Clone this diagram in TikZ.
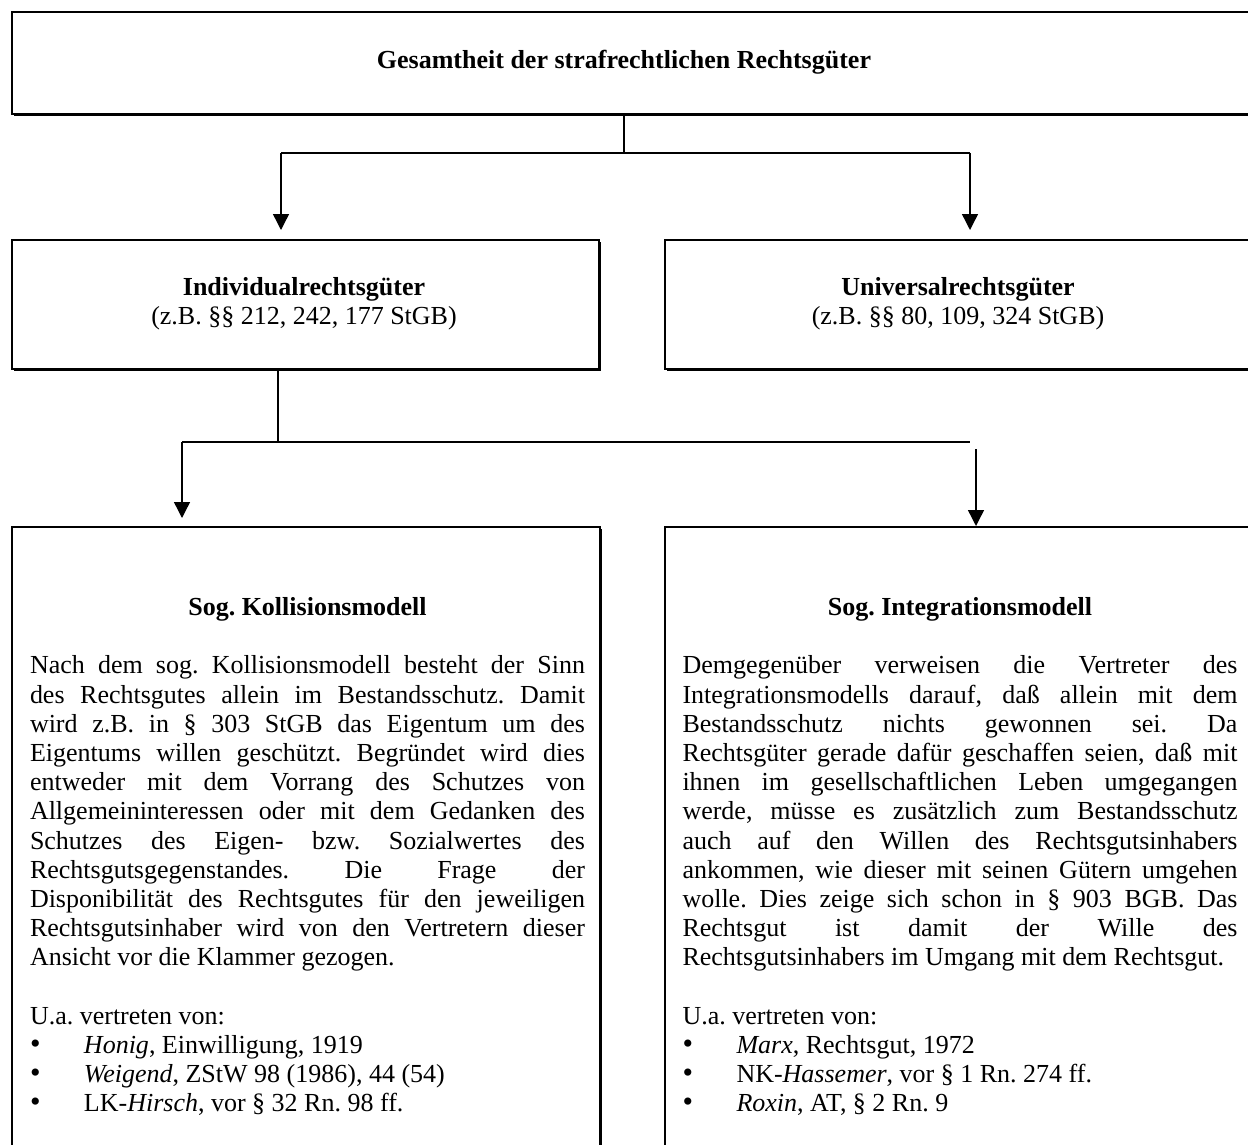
\documentclass[tikz,border=0pt]{standalone}
\usepackage{fontspec}
\setmainfont{Liberation Serif}
\usetikzlibrary{arrows.meta,shadows}
\frenchspacing

\newcommand{\leerzeile}{\par\vskip\baselineskip}
\newcommand{\punkt}[1]{\par\noindent\makebox[27pt][l]{\fontsize{15}{14.6}\selectfont\textbullet}#1}

\tikzset{
  kasten/.style={draw, line width=1pt, fill=white, inner sep=0pt, anchor=north west,
    drop shadow={shadow xshift=0.9pt, shadow yshift=-0.9pt, opacity=1, fill=black}},
  linie/.style={line width=0.7pt},
  pfeil/.style={line width=0.7pt, -{Triangle[width=8pt,length=8pt]}},
  spalte/.style={text width=277.5pt, align=justify, inner sep=0pt, anchor=north},
}

\begin{document}
\begin{tikzpicture}[x=0.5pt, y=-0.5pt, font=\fontsize{13}{14.6}\selectfont]
\useasboundingbox (0,0) rectangle (1248,1145);

% Kaesten
\node[kasten, minimum width=620.5pt, minimum height=51pt] (gesamt) at (11,11) {};
\node[kasten, minimum width=293.5pt, minimum height=64.5pt] (indiv) at (11,239) {};
\node[kasten, minimum width=294pt, minimum height=64.5pt] (univ) at (664,239) {};
\node[kasten, minimum width=294pt, minimum height=350pt] (koll) at (11,526) {};
\node[kasten, minimum width=294pt, minimum height=350pt] (integ) at (664,526) {};

% Texte oben
\node (gesamttext) at (624,62) {\textbf{Gesamtheit der strafrechtlichen Rechtsgüter}};
\node[align=center] (indivtext) at (304,304) {\textbf{Individualrechtsgüter}\\(z.B. §§ 212, 242, 177 StGB)};
\node[align=center] (univtext) at (958,304) {\textbf{Universalrechtsgüter}\\(z.B. §§ 80, 109, 324 StGB)};

% Verbindungen
\coordinate (v1) at (624,153);
\coordinate (l1) at (281,153); \coordinate (r1) at (970,153);
\coordinate (l1e) at (281,230); \coordinate (r1e) at (970,230);
\draw[linie] (gesamt.south -| v1) -- (v1);
\draw[linie] (l1) -- (r1);
\draw[pfeil] (l1) -- (l1e);
\draw[pfeil] (r1) -- (r1e);

\coordinate (v2) at (278,442);
\coordinate (l2) at (182,442); \coordinate (r2) at (970,442);
\coordinate (l2e) at (182,518);
\coordinate (r2a) at (976,449); \coordinate (r2e) at (976,526);
\draw[linie] (indiv.south -| v2) -- (v2);
\draw[linie] (l2) -- (r2);
\draw[pfeil] (l2) -- (l2e);
\draw[pfeil] (r2a) -- (r2e);

% Modelle
\node[spalte] (kolltext) at (307.5,597) {%
{\centering\textbf{Sog. Kollisionsmodell}\par}
\leerzeile
\noindent Nach dem sog. Kollisionsmodell besteht der Sinn\linebreak
des Rechtsgutes allein im Bestandsschutz. Damit\linebreak
wird z.B. in § 303 StGB das Eigentum um des\linebreak
Eigentums willen geschützt. Begründet wird dies\linebreak
entweder mit dem Vorrang des Schutzes von\linebreak
Allgemeininteressen oder mit dem Gedanken des\linebreak
Schutzes des Eigen- bzw. Sozialwertes des\linebreak
Rechtsgutsgegenstandes. Die Frage der\linebreak
Disponibilität des Rechtsgutes für den jeweiligen\linebreak
Rechtsgutsinhaber wird von den Vertretern dieser\linebreak
Ansicht vor die Klammer gezogen.
\leerzeile
\noindent U.a. vertreten von:
\punkt{\textit{Honig}, Einwilligung, 1919}
\punkt{\textit{Weigend}, ZStW 98 (1986), 44 (54)}
\punkt{LK-\textit{Hirsch}, vor § 32 Rn. 98 ff.}};

\node[spalte] (integtext) at (960,597) {%
{\centering\textbf{Sog. Integrationsmodell}\par}
\leerzeile
\noindent Demgegenüber verweisen die Vertreter des\linebreak
Integrationsmodells darauf, daß allein mit dem\linebreak
Bestandsschutz nichts gewonnen sei. Da\linebreak
Rechtsgüter gerade dafür geschaffen seien, daß mit\linebreak
ihnen im gesellschaftlichen Leben umgegangen\linebreak
werde, müsse es zusätzlich zum Bestandsschutz\linebreak
auch auf den Willen des Rechtsgutsinhabers\linebreak
ankommen, wie dieser mit seinen Gütern umgehen\linebreak
wolle. Dies zeige sich schon in § 903 BGB. Das\linebreak
Rechtsgut ist damit der Wille des\linebreak
Rechtsgutsinhabers im Umgang mit dem Rechtsgut.
\leerzeile
\noindent U.a. vertreten von:
\punkt{\textit{Marx}, Rechtsgut, 1972}
\punkt{NK-\textit{Hassemer}, vor § 1 Rn. 274 ff.}
\punkt{\textit{Roxin}, AT, § 2 Rn. 9}};
\end{tikzpicture}
\end{document}
